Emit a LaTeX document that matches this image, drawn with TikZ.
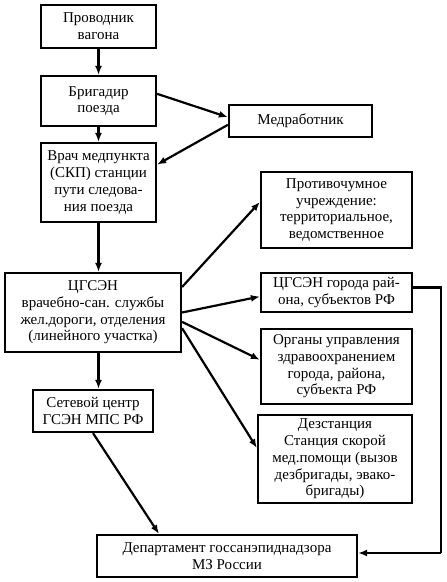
\documentclass[tikz,border=0pt]{standalone}
\usepackage{fontspec}
\setmainfont{Liberation Serif}
\usetikzlibrary{arrows.meta,calc}

\begin{document}
\begin{tikzpicture}[x=1pt, y=-1pt, line width=2.2pt,
    font=\fontsize{15}{16.7}\selectfont,
    box/.style={draw, align=center, inner sep=1pt},
    link/.style={-{Latex[length=9pt,width=7pt]}}]
    \useasboundingbox (0,0) rectangle (447,582);

    \node[box, minimum width=115pt, minimum height=43pt] (conductor) at (98.5,26.5) {Проводник\\вагона};
    \node[box, minimum width=115pt, minimum height=50pt] (brigadier) at (98.5,101) {Бригадир\\поезда};
    \node[box, minimum width=143pt, minimum height=32pt] (medic) at (300.5,121) {Медработник};
    \node[box, minimum width=115pt, minimum height=79pt] (doctor) at (98.5,182.5) {Врач медпункта\\(СКП) станции\\пути следова-\\ния поезда};
    \node[box, minimum width=151pt, minimum height=76pt] (plague) at (336.5,210) {Противочумное\\учреждение:\\территориальное,\\ведомственное};
    \node[box, minimum width=176pt, minimum height=79pt] (railway) at (93,312.5) {ЦГСЭН\\врачебно-сан. службы\\жел.дороги, отделения\\(линейного участка)};
    \node[box, minimum width=151pt, minimum height=39pt] (city) at (336.5,292.5) {ЦГСЭН города рай-\\она, субъектов РФ};
    \node[box, minimum width=151pt, minimum height=75pt] (health) at (336.5,366.5) {Органы управления\\здравоохранением\\города, района,\\субъекта РФ};
    \node[box, minimum width=154pt, minimum height=88pt] (disinf) at (335,459) {Дезстанция\\Станция скорой\\мед.помощи (вызов\\дезбригады, эвако-\\бригады)};
    \node[box, minimum width=120pt, minimum height=42pt] (network) at (93,411) {Сетевой центр\\ГСЭН МПС РФ};
    \node[box, minimum width=260pt, minimum height=42pt] (dept) at (227,556) {Департамент госсанэпиднадзора\\МЗ России};
    \coordinate (bus) at (441,553);

    \draw[link] (conductor) -- (brigadier);
    \draw[link] (brigadier) -- (doctor);
    \draw[link] (brigadier.7) -- (medic.177);
    \draw[link] (medic.183) -- (doctor.17);
    \draw[link] (doctor) -- (railway.north -| doctor);
    \draw[link] (railway.16) -- (plague.174);
    \draw[link] (railway.0) -- (city.183);
    \draw[link] (railway.-6) -- (health.175);
    \draw[link] (railway.-10) -- (disinf.172);
    \draw[link] (railway.south -| doctor) -- (network.north -| doctor);
    \draw[link] (network.south) -- (dept.162.6);
    \draw ($(city.east)+(0,-5)$) -| (bus);
    \draw ($(health.east)+(0,-6)$) -- ($(health.east)+(0,-6)$ -| bus);
    \draw[link] (bus) -- (bus -| dept.east);
\end{tikzpicture}
\end{document}
